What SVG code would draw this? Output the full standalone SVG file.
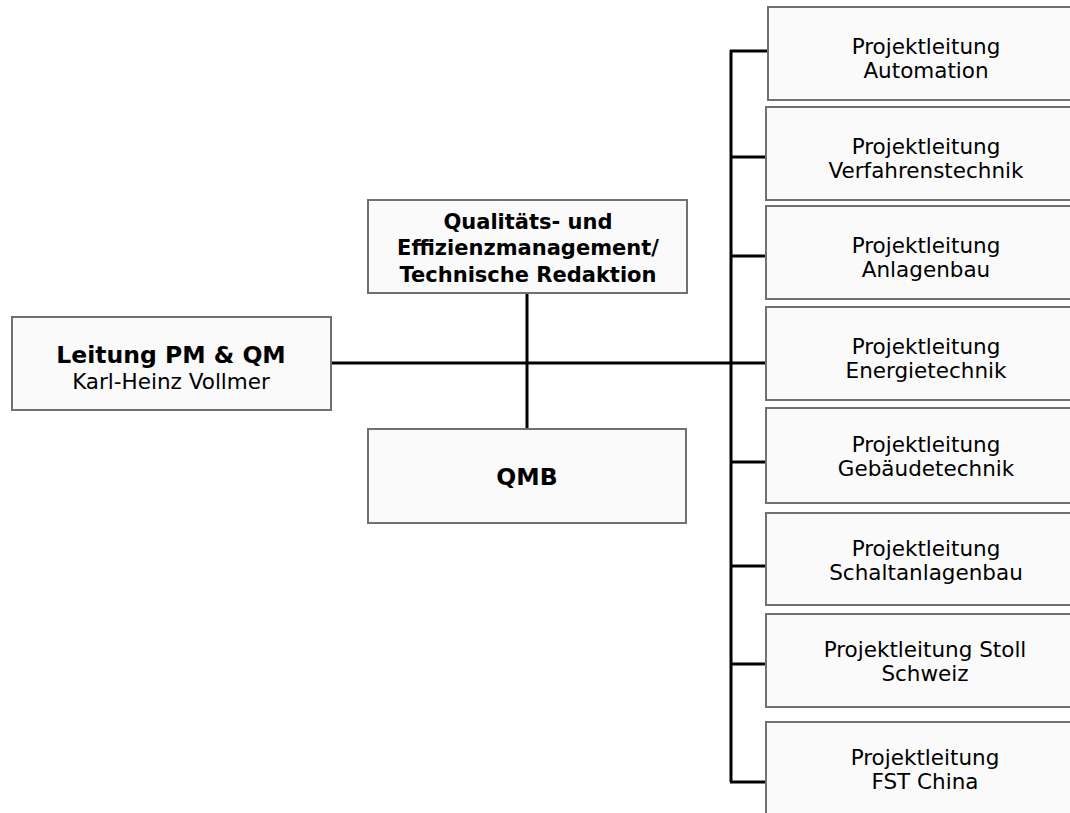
<svg xmlns="http://www.w3.org/2000/svg" width="1070" height="813" viewBox="0 0 1070 813">
<style>
.box{fill:#fafafa;stroke:#707070;stroke-width:2}
.t{font-family:"DejaVu Sans",Verdana,sans-serif;font-size:21.5px;fill:#000;text-anchor:middle}
.b{font-weight:bold}
.c{stroke:#000;stroke-width:3;fill:none}
</style>
<rect width="1070" height="813" fill="#fff"/>
<g id="connectors">
<line class="c" x1="331" y1="363" x2="768" y2="363"/>
<line class="c" x1="527" y1="294" x2="527" y2="429"/>
<line class="c" x1="731" y1="50" x2="731" y2="782"/>
<line class="c" x1="730" y1="51" x2="768" y2="51"/>
<line class="c" x1="730" y1="157" x2="767" y2="157"/>
<line class="c" x1="730" y1="256" x2="767" y2="256"/>
<line class="c" x1="730" y1="462" x2="767" y2="462"/>
<line class="c" x1="730" y1="566" x2="767" y2="566"/>
<line class="c" x1="730" y1="664" x2="767" y2="664"/>
<line class="c" x1="730" y1="782" x2="767" y2="782"/>
</g>
<g id="leitung">
<rect class="box" x="12" y="317" width="319" height="93"/>
<text class="t b" x="171" y="363" style="font-size:23.5px">Leitung PM &amp; QM</text>
<text class="t" x="171" y="389">Karl-Heinz Vollmer</text>
</g>
<g id="qem">
<rect class="box" x="368" y="200" width="319" height="93"/>
<text class="t b" x="528" y="229" style="font-size:21px">Qualitäts- und</text>
<text class="t b" x="528" y="255" style="font-size:21px">Effizienzmanagement/</text>
<text class="t b" x="528" y="282" style="font-size:21px">Technische Redaktion</text>
</g>
<g id="qmb">
<rect class="box" x="368" y="429" width="318" height="94"/>
<text class="t b" x="527" y="485" style="font-size:23.5px">QMB</text>
</g>
<g id="pl1">
<rect class="box" x="768" y="7" width="320" height="93"/>
<text class="t" x="926" y="54">Projektleitung</text>
<text class="t" x="926" y="78">Automation</text>
</g>
<g id="pl2">
<rect class="box" x="766" y="107" width="320" height="93"/>
<text class="t" x="926" y="154">Projektleitung</text>
<text class="t" x="926" y="178">Verfahrenstechnik</text>
</g>
<g id="pl3">
<rect class="box" x="766" y="206" width="320" height="93"/>
<text class="t" x="926" y="253">Projektleitung</text>
<text class="t" x="926" y="277">Anlagenbau</text>
</g>
<g id="pl4">
<rect class="box" x="766" y="307" width="320" height="93"/>
<text class="t" x="926" y="354">Projektleitung</text>
<text class="t" x="926" y="378">Energietechnik</text>
</g>
<g id="pl5">
<rect class="box" x="766" y="408" width="320" height="95"/>
<text class="t" x="926" y="452">Projektleitung</text>
<text class="t" x="926" y="476">Gebäudetechnik</text>
</g>
<g id="pl6">
<rect class="box" x="766" y="513" width="320" height="92"/>
<text class="t" x="926" y="556">Projektleitung</text>
<text class="t" x="926" y="580">Schaltanlagenbau</text>
</g>
<g id="pl7">
<rect class="box" x="766" y="614" width="320" height="93"/>
<text class="t" x="925" y="657">Projektleitung Stoll</text>
<text class="t" x="925" y="681">Schweiz</text>
</g>
<g id="pl8">
<rect class="box" x="766" y="722" width="320" height="100"/>
<text class="t" x="925" y="765">Projektleitung</text>
<text class="t" x="925" y="789">FST China</text>
</g>
</svg>
